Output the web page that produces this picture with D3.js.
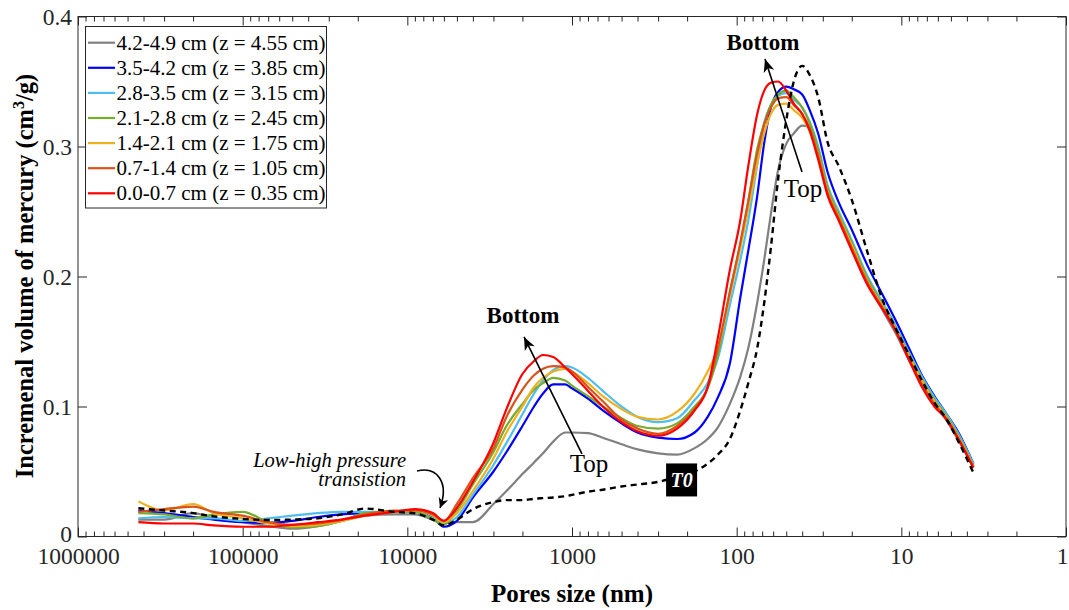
<!DOCTYPE html>
<html><head><meta charset="utf-8">
<script src="https://cdn.jsdelivr.net/npm/d3@7"></script>
<style>
body{margin:0;background:#fff}
svg{display:block}
text{font-family:"Liberation Serif","Times New Roman",serif}
</style>
</head><body>
<svg id="c" width="1069" height="610"></svg>
<script>
// ---------- DATA ----------
const poreSize = [430000,300000,200000,150000,100000,70000,50000,35000,25000,18000,12000,9000,7000,6000,5000,4000,3000,2500,2000,1700,1500,1300,1100,1000,800,650,500,400,300,230,180,150,130,110,95,85,75,68,62,56,50,45,40,36,32,28,24,20,16,13,11,9,7.5,6.3,5.3,4.5,3.65];

const z455 = [0.013,0.013,0.018,0.014,0.011,0.008,0.006,0.008,0.012,0.016,0.017,0.017,0.013,0.011,0.011,0.011,0.025,0.035,0.048,0.057,0.064,0.073,0.080,0.080,0.0795,0.076,0.071,0.067,0.064,0.063,0.068,0.075,0.084,0.102,0.123,0.145,0.180,0.213,0.248,0.282,0.302,0.310,0.316,0.315,0.295,0.266,0.245,0.222,0.195,0.174,0.158,0.136,0.118,0.102,0.089,0.074,0.053];
const z385 = [0.020,0.018,0.015,0.013,0.011,0.0105,0.012,0.015,0.017,0.018,0.019,0.0205,0.015,0.0075,0.012,0.030,0.050,0.065,0.085,0.100,0.110,0.117,0.117,0.114,0.106,0.097,0.087,0.080,0.076,0.075,0.080,0.092,0.107,0.133,0.184,0.220,0.262,0.303,0.330,0.342,0.346,0.344,0.340,0.328,0.310,0.280,0.257,0.236,0.208,0.186,0.168,0.145,0.124,0.108,0.094,0.080,0.056];
const z315 = [0.014,0.015,0.014,0.014,0.012,0.014,0.016,0.018,0.019,0.019,0.019,0.019,0.014,0.010,0.015,0.032,0.055,0.072,0.094,0.110,0.120,0.128,0.131,0.130,0.122,0.112,0.100,0.092,0.088,0.091,0.105,0.118,0.137,0.178,0.213,0.243,0.286,0.318,0.332,0.339,0.341,0.336,0.330,0.319,0.300,0.270,0.250,0.228,0.200,0.180,0.164,0.142,0.123,0.107,0.094,0.079,0.056];
const z245 = [0.018,0.017,0.014,0.017,0.019,0.011,0.007,0.008,0.012,0.018,0.019,0.019,0.013,0.009,0.020,0.040,0.065,0.085,0.102,0.113,0.118,0.122,0.120,0.116,0.108,0.100,0.091,0.085,0.083,0.087,0.100,0.114,0.140,0.188,0.225,0.258,0.298,0.318,0.332,0.340,0.343,0.338,0.330,0.318,0.298,0.268,0.248,0.226,0.198,0.178,0.162,0.140,0.121,0.105,0.092,0.077,0.054];
const z175 = [0.027,0.020,0.025,0.018,0.014,0.010,0.008,0.009,0.012,0.016,0.019,0.020,0.016,0.011,0.018,0.035,0.060,0.080,0.100,0.115,0.122,0.127,0.129,0.127,0.118,0.108,0.098,0.092,0.090,0.096,0.110,0.127,0.145,0.185,0.222,0.252,0.287,0.310,0.325,0.332,0.333,0.328,0.322,0.312,0.294,0.265,0.246,0.224,0.196,0.177,0.161,0.139,0.120,0.104,0.091,0.076,0.054];
const z105 = [0.019,0.021,0.023,0.019,0.016,0.011,0.009,0.010,0.013,0.017,0.020,0.020,0.017,0.012,0.025,0.045,0.068,0.092,0.113,0.124,0.129,0.131,0.130,0.127,0.115,0.104,0.090,0.083,0.079,0.085,0.098,0.115,0.145,0.188,0.226,0.258,0.295,0.317,0.330,0.337,0.338,0.332,0.325,0.314,0.293,0.264,0.245,0.222,0.195,0.176,0.160,0.137,0.117,0.102,0.090,0.075,0.053];
const z035 = [0.011,0.010,0.010,0.0085,0.0075,0.0075,0.009,0.011,0.013,0.016,0.019,0.021,0.018,0.012,0.022,0.042,0.072,0.098,0.125,0.135,0.1396,0.138,0.130,0.125,0.112,0.100,0.088,0.081,0.0775,0.083,0.097,0.115,0.153,0.205,0.2435,0.285,0.325,0.343,0.349,0.350,0.343,0.333,0.325,0.312,0.290,0.262,0.243,0.220,0.193,0.175,0.160,0.136,0.115,0.100,0.090,0.075,0.053];
const t0 = [0.0217,0.020,0.018,0.0155,0.0135,0.0127,0.013,0.014,0.017,0.0215,0.019,0.0178,0.013,0.0085,0.013,0.021,0.0265,0.028,0.028,0.029,0.0295,0.030,0.031,0.032,0.0345,0.036,0.0385,0.040,0.042,0.046,0.050,0.056,0.063,0.075,0.097,0.118,0.145,0.180,0.222,0.275,0.320,0.350,0.362,0.355,0.338,0.303,0.285,0.259,0.218,0.182,0.162,0.140,0.120,0.103,0.090,0.073,0.049];

const seriesLabels = ["4.2-4.9 cm (z = 4.55 cm)","3.5-4.2 cm (z = 3.85 cm)","2.8-3.5 cm (z = 3.15 cm)","2.1-2.8 cm (z = 2.45 cm)","1.4-2.1 cm (z = 1.75 cm)","0.7-1.4 cm (z = 1.05 cm)","0.0-0.7 cm (z = 0.35 cm)"];
const seriesValues = [z455, z385, z315, z245, z175, z105, z035];
const seriesColors = ["#808080","#0000FF","#4DBEEE","#77AC30","#EDB120","#D95319","#FF0000"];

const xTickValues = [1e6,1e5,1e4,1e3,100,10,1];
const xTickLabels = ["1000000","100000","10000","1000","100","10","1"];
const yTickValues = [0,0.1,0.2,0.3,0.4];
const yTickLabels = ["0","0.1","0.2","0.3","0.4"];

// ---------- CHART ----------
const svg = d3.select("#c");
const box = {l:78, r:1066, t:16.5, b:536.5};
const axisColor = "#262626";
const x = d3.scaleLog().domain([1e6,1]).range([box.l, box.r]);
const y = d3.scaleLinear().domain([0,0.4]).range([box.b, box.t]);

svg.append("rect").attr("width",1069).attr("height",610).attr("fill","#fff");

const minorX = [];
for (let k=0;k<6;k++) for (let m=2;m<=9;m++) minorX.push(m*Math.pow(10,k));

function styleAxis(g, size){
  g.attr("color",axisColor).attr("font-family",'"Liberation Serif","Times New Roman",serif').attr("font-size",size);
  g.select(".domain").remove();
}

// bottom axis
const gB = svg.append("g").attr("transform",`translate(0,${box.b})`)
  .call(d3.axisBottom(x).tickValues(xTickValues).tickFormat((d,i)=>xTickLabels[i]).tickSizeInner(-9).tickSizeOuter(0).tickPadding(11));
styleAxis(gB,23.5);
gB.selectAll(".tick text").filter(d=>d===1).attr("dx",-4);
const gBm = svg.append("g").attr("transform",`translate(0,${box.b})`)
  .call(d3.axisBottom(x).tickValues(minorX).tickFormat("").tickSizeInner(-5).tickSizeOuter(0));
styleAxis(gBm,10);
// top axis
const gT = svg.append("g").attr("transform",`translate(0,${box.t})`)
  .call(d3.axisTop(x).tickValues(xTickValues).tickFormat("").tickSizeInner(-9).tickSizeOuter(0));
styleAxis(gT,10);
const gTm = svg.append("g").attr("transform",`translate(0,${box.t})`)
  .call(d3.axisTop(x).tickValues(minorX).tickFormat("").tickSizeInner(-5).tickSizeOuter(0));
styleAxis(gTm,10);
// left axis
const gL = svg.append("g").attr("transform",`translate(${box.l},0)`)
  .call(d3.axisLeft(y).tickValues(yTickValues).tickFormat((d,i)=>yTickLabels[i]).tickSizeInner(-9).tickSizeOuter(0).tickPadding(6));
styleAxis(gL,23.5);
gL.selectAll(".tick text").filter(d=>d===0).attr("dy","0.22em");
// right axis
const gR = svg.append("g").attr("transform",`translate(${box.r},0)`)
  .call(d3.axisRight(y).tickValues(yTickValues).tickFormat("").tickSizeInner(-9).tickSizeOuter(0));
styleAxis(gR,10);

svg.append("rect").attr("x",box.l).attr("y",box.t).attr("width",box.r-box.l).attr("height",box.b-box.t)
  .attr("fill","none").attr("stroke",axisColor).attr("stroke-width",1);

// lines
const line = d3.line().x((d,i)=>x(poreSize[i])).y(d=>y(d)).curve(d3.curveMonotoneX);
const gLines = svg.append("g");
seriesValues.forEach((vals,si)=>{
  gLines.append("path").datum(vals).attr("d",line).attr("fill","none")
    .attr("stroke",seriesColors[si]).attr("stroke-width",2.2).attr("stroke-linejoin","round");
});
gLines.append("path").datum(t0).attr("d",line).attr("fill","none")
  .attr("stroke","#000").attr("stroke-width",2.4).attr("stroke-dasharray","6,4.5");

// arrow marker
const defs = svg.append("defs");
defs.append("marker").attr("id","ah").attr("markerUnits","userSpaceOnUse")
  .attr("viewBox","-14 -7 16 14").attr("refX",0).attr("refY",0)
  .attr("markerWidth",16).attr("markerHeight",14).attr("orient","auto")
  .append("path").attr("d","M0,0 L-13,-5.5 L-9.5,0 L-13,5.5 Z").attr("fill","#000");
defs.append("marker").attr("id","ah2").attr("markerUnits","userSpaceOnUse")
  .attr("viewBox","-12 -6 14 12").attr("refX",0).attr("refY",0)
  .attr("markerWidth",14).attr("markerHeight",12).attr("orient","auto")
  .append("path").attr("d","M0,0 L-10,-5 L-7,0 L-10,5 Z").attr("fill","#000");

// annotations (positions in data coordinates)
const ann = svg.append("g");
function arrow(from,to){
  ann.append("line").attr("x1",x(from[0])).attr("y1",y(from[1])).attr("x2",x(to[0])).attr("y2",y(to[1]))
    .attr("stroke","#000").attr("stroke-width",1.6).attr("marker-end","url(#ah)");
}
function label(pos,txt,opts){
  return ann.append("text").attr("x",x(pos[0])).attr("y",y(pos[1])).text(txt)
    .attr("text-anchor",opts.anchor||"middle").attr("font-size",opts.size||21)
    .attr("font-weight",opts.weight||"normal").attr("font-style",opts.style||"normal").attr("fill",opts.fill||"#000");
}
arrow([870,0.0635],[1956,0.1535]);
label([1984,0.1642],"Bottom",{weight:"bold",size:23});
label([788,0.0496],"Top",{size:25});
arrow([40.1,0.2804],[67.3,0.3673]);
label([69.2,0.3746],"Bottom",{weight:"bold",size:23});
label([39.55,0.2612],"Top",{size:25});

// two-line italic note as one text element
const noteX = x(10190);
const note = ann.append("text").attr("x",noteX).attr("y",y(0.0532)).attr("text-anchor","end")
  .attr("font-size",20.5).attr("font-style","italic").attr("fill","#000");
note.append("tspan").attr("x",noteX).text("Low-high pressure");
note.append("tspan").attr("x",noteX).attr("dy",19).text("transistion");
const p0=[x(8734),y(0.0504)];
ann.append("path")
  .attr("d",`M${p0[0]},${p0[1]} C${x(6600)},${y(0.054)} ${x(5550)},${y(0.042)} ${x(6332)},${y(0.0220)}`)
  .attr("fill","none").attr("stroke","#000").attr("stroke-width",1.6).attr("marker-end","url(#ah2)");

// T0 box
const t0c=[x(216),y(0.0435)];
ann.append("rect").attr("x",t0c[0]-15.5).attr("y",t0c[1]-16.5).attr("width",31).attr("height",33).attr("fill","#000");
ann.append("text").attr("x",t0c[0]).attr("y",t0c[1]+7).attr("text-anchor","middle")
  .attr("font-size",20).attr("font-weight","bold").attr("font-style","italic").attr("fill","#fff").text("T0");

// axis titles
svg.append("text").attr("x",(box.l+box.r)/2).attr("y",602).attr("text-anchor","middle")
  .attr("font-size",25).attr("font-weight","bold").attr("fill","#000").text("Pores size (nm)");
const yl = svg.append("text").attr("transform","translate(33,276) rotate(-90)").attr("text-anchor","middle")
  .attr("font-size",24.5).attr("font-weight","bold").attr("fill","#000");
yl.append("tspan").text("Incremenal volume of mercury (cm");
yl.append("tspan").attr("font-size",16).attr("dy",-9).text("3");
yl.append("tspan").attr("dy",9).text("/g)");

// legend
const lg = svg.append("g");
lg.append("rect").attr("x",85.5).attr("y",26.5).attr("width",241).attr("height",181.5)
  .attr("fill","#fff").attr("stroke",axisColor).attr("stroke-width",1);
seriesLabels.forEach((s,i)=>{
  const cy = 42.7 + i*25.1;
  lg.append("line").attr("x1",88).attr("x2",115).attr("y1",cy).attr("y2",cy)
    .attr("stroke",seriesColors[i]).attr("stroke-width",2.2);
  lg.append("text").attr("x",116.5).attr("y",cy+7).attr("font-size",21).attr("fill","#000").text(s);
});
</script>
</body></html>
